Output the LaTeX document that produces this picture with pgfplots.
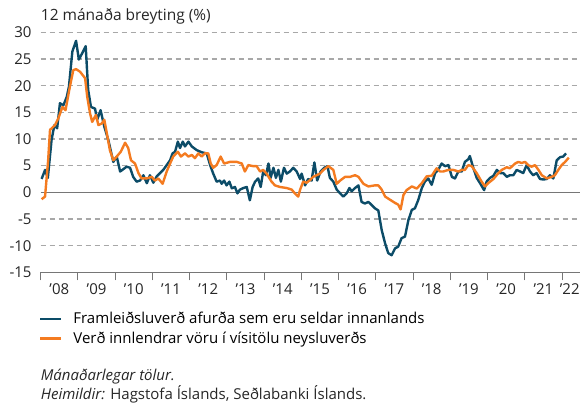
\documentclass[border=0pt]{standalone}
\usepackage{pgfplots}
\pgfplotsset{compat=1.18}
\usepackage{fontspec}
\setmainfont{Open Sans}
\definecolor{dblue}{HTML}{0C4C68}
\definecolor{orng}{HTML}{F47B20}
\definecolor{gridc}{HTML}{A8A8A8}
\definecolor{axc}{HTML}{767676}
\newcommand{\fs}{\fontsize{15}{17}\selectfont}
\begin{document}
\begin{tikzpicture}
\useasboundingbox (-40.7pt,-132.7pt) rectangle (542.3pt,272.3pt);
\begin{axis}[
  at={(0pt,0pt)}, anchor=south west,
  scale only axis, width=539.3pt, height=240pt,
  xmin=0, xmax=173.8, ymin=-15, ymax=30,
  axis lines*=left,
  y axis line style={draw=none},
  x axis line style={draw=axc, line width=1pt},
  ytick={-10,-5,5,10,15,20,25,30},
  extra y ticks={-15,0},
  extra y tick style={major grid style={solid, draw=axc, line width=1pt}},
  ymajorgrids,
  major grid style={gridc, line width=1.1pt, dash pattern=on 5.5pt off 3.5pt},
  ytick style={draw=none},
  /pgf/number format/assume math mode=true,
  yticklabel style={anchor=east, inner sep=0pt, xshift=-1pt},
  tick align=outside,
  major tick length=8pt,
  xtick={0,12,...,168},
  xticklabels={},
  xtick style={draw=axc, line width=0.9pt},
  extra x ticks={6,18,30,42,54,66,78,90,102,114,126,138,150,162,170.5},
  extra x tick labels={\textquoteright08,\textquoteright09,\textquoteright10,\textquoteright11,\textquoteright12,\textquoteright13,\textquoteright14,\textquoteright15,\textquoteright16,\textquoteright17,\textquoteright18,\textquoteright19,\textquoteright20,\textquoteright21,\textquoteright22},
  extra x tick style={major tick length=0pt, xticklabel style={anchor=north, inner sep=0pt, yshift=-11pt}},
  tick label style={font=\fs, text=black!85},
  legend style={at={(axis description cs:0,0)}, anchor=north west, draw=none, fill=none,
    yshift=-38pt, xshift=-2pt, font=\fs, row sep=2.5pt,
    inner sep=0pt},
  legend cell align=left,
  legend image code/.code={\draw[#1, line width=2.6pt] (0pt,0pt) -- (21pt,0pt); \path (30pt,0pt);},
  clip=false,
]
\addplot[dblue, line width=2.4pt, line join=round] coordinates {
(0.3,2.5)(1.4,4.2)(2.3,2.7)(3.5,9.8)(4.4,12.6)(5.3,12.0)(6.2,16.7)(7.3,16.3)(8.4,17.9)(9.1,19.8)
(10.2,26.4)(11.4,28.4)(12.3,24.9)(13.4,26.1)(14.5,27.4)(15.3,19.2)(16.2,16.0)(17.5,15.7)(18.2,13.6)(19.3,15.4)
(20.5,12.3)(21.8,9.8)(23.4,5.7)(24.5,6.7)(25.6,3.9)(27.7,4.8)(28.8,4.6)(29.8,2.9)(30.9,2.0)(32.0,2.2)
(33.1,3.2)(34.2,1.7)(35.2,3.2)(36.3,1.8)(37.4,3.0)(39.5,4.2)(41.7,6.0)(42.5,7.3)(43.3,7.6)(44.2,9.5)
(44.9,8.3)(45.8,9.5)(46.5,8.6)(47.6,9.5)(48.7,8.6)(50.3,7.9)(51.9,7.5)(53.5,7.3)(54.6,5.1)(55.6,3.5)
(56.7,2.0)(57.8,2.2)(58.3,1.6)(59.1,2.2)(59.9,1.3)(60.8,2.0)(61.6,0.75)(62.6,1.0)(63.4,-0.2)(64.2,0.5)
(65.3,0.8)(66.4,1.0)(67.4,-1.5)(68.3,1.0)(69.1,2.0)(70.1,2.6)(70.9,1.0)(71.7,3.9)(72.6,3.2)(73.4,5.4)
(74.1,2.7)(75.0,4.6)(75.8,2.7)(76.6,4.2)(77.4,2.0)(78.4,4.6)(79.3,3.5)(80.3,3.9)(81.4,4.6)(82.5,3.9)
(83.6,2.5)(84.1,3.5)(85.2,1.3)(86.2,2.5)(87.3,2.2)(88.2,5.6)(89.1,2.2)(90.2,3.9)(91.4,4.6)(92.4,4.9)
(93.2,2.7)(94.3,2.0)(95.4,0.5)(96.5,-0.2)(97.5,-0.8)(98.6,-0.2)(99.5,0.8)(100.2,0.2)(101.3,0.8)(102.4,1.3)
(103.4,-1.8)(104.5,-2.1)(105.6,-1.8)(106.7,-2.4)(107.7,-3.0)(108.8,-3.4)(109.9,-7.1)(111.0,-9.6)(112.0,-11.4)(113.1,-11.8)
(114.2,-10.5)(115.2,-10.2)(116.3,-8.6)(117.4,-8.3)(118.5,-5.2)(119.6,-3.3)(120.6,-3.0)(121.7,-1.4)(122.8,0.75)(123.8,2.0)
(124.9,2.6)(126.0,1.4)(127.1,3.6)(128.1,4.2)(129.2,5.4)(130.3,4.9)(131.4,5.1)(132.5,2.9)(133.5,2.6)(134.6,3.9)
(135.7,3.9)(136.7,5.7)(137.8,6.2)(138.3,6.8)(139.4,4.6)(140.5,2.7)(141.6,1.7)(142.9,0.4)(143.7,2.0)(144.8,2.7)
(145.9,3.1)(147.0,4.2)(148.0,3.6)(149.1,3.6)(150.2,2.9)(151.2,3.2)(152.3,3.2)(153.4,4.2)(154.5,3.9)(155.5,3.6)
(156.6,5.1)(157.7,3.9)(158.7,3.2)(159.8,3.6)(160.9,2.5)(162.0,2.4)(163.1,2.5)(164.1,3.2)(165.2,2.6)(166.3,6.0)
(167.4,6.6)(168.4,6.7)(169.3,7.3)
};
\addlegendentry{Framleiðsluverð afurða sem eru seldar innanlands}
\addplot[orng, line width=2.4pt, line join=round] coordinates {
(0.3,-1.3)(1.4,-0.8)(2.4,6.0)(3.0,11.7)(4.6,12.6)(5.7,13.9)(7.0,16.0)(8.0,15.4)(9.4,19.8)(10.5,22.9)
(11.4,23.1)(12.7,22.6)(14.3,21.4)(15.0,17.9)(15.9,14.8)(16.6,13.2)(17.8,14.5)(18.6,12.6)(19.7,12.9)(20.5,13.6)
(21.3,11.1)(22.3,7.9)(23.4,6.0)(24.5,6.7)(25.8,7.6)(27.2,9.3)(28.2,8.3)(29.1,6.0)(30.4,5.4)(31.5,3.6)
(32.5,2.6)(34.2,2.6)(35.8,2.9)(36.8,2.2)(37.9,2.6)(39.3,1.6)(40.6,3.9)(41.7,5.4)(42.7,6.7)(44.2,7.6)
(45.2,6.7)(46.5,7.3)(47.6,6.7)(48.7,7.0)(49.7,6.4)(50.8,7.3)(51.9,6.7)(52.9,7.3)(54.0,7.3)(54.8,5.4)
(55.6,4.6)(56.7,5.1)(58.0,6.7)(59.1,5.4)(61.0,5.7)(63.2,5.7)(64.8,5.4)(65.8,3.9)(66.9,5.1)(68.5,4.9)
(69.6,4.9)(70.7,3.9)(71.7,4.2)(72.8,3.5)(74.4,2.0)(75.5,1.3)(77.1,1.0)(79.3,0.8)(80.9,0.5)(81.9,-0.2)
(83.0,-0.8)(83.6,0.5)(84.6,2.0)(85.7,1.8)(86.8,2.3)(87.8,2.9)(88.9,3.2)(90.0,3.5)(91.1,4.2)(92.7,4.9)
(94.3,4.2)(95.4,1.6)(96.5,2.2)(98.1,2.9)(99.7,2.9)(101.3,3.2)(102.4,2.9)(104.0,1.6)(105.6,1.1)(107.7,1.3)
(108.8,1.3)(109.9,0.5)(111.0,-0.8)(112.6,-1.4)(114.2,-2.0)(115.2,-2.3)(116.0,-3.2)(116.9,-0.5)(117.9,0.4)(119.6,1.1)
(121.2,0.7)(122.8,1.7)(124.4,3.0)(126.0,3.1)(127.6,4.5)(128.7,3.9)(129.7,3.9)(131.4,4.2)(133.0,4.2)(134.6,3.9)
(135.7,4.2)(136.7,4.2)(137.8,5.1)(138.9,4.9)(140.5,3.6)(142.1,2.0)(143.2,1.1)(144.2,1.7)(145.9,2.5)(147.5,3.6)
(148.6,4.2)(150.2,4.7)(151.2,4.5)(152.9,5.4)(153.9,5.7)(155.0,5.5)(156.1,5.7)(157.1,5.1)(158.2,4.8)(159.3,5.1)
(160.4,4.2)(161.5,3.2)(163.1,2.6)(164.7,2.9)(165.7,3.2)(166.8,4.2)(167.9,5.1)(169.0,5.7)(170.2,6.5)
};
\addlegendentry{Verð innlendrar vöru í vísitölu neysluverðs}
\end{axis}
\node[anchor=base west, inner sep=0pt, font=\fontsize{15.5}{17}\selectfont, text=black!85] at (0pt,251.6pt) {12 mánaða breyting (\%)};
\node[anchor=base west, inner sep=0pt, font=\fs, text=black!85] at (0pt,-107.7pt) {\itshape Mánaðarlegar tölur.};
\node[anchor=base west, inner sep=0pt, font=\fs, text=black!85] at (0pt,-127.2pt) {\textit{Heimildir:} Hagstofa Íslands, Seðlabanki Íslands.};
\end{tikzpicture}
\end{document}
